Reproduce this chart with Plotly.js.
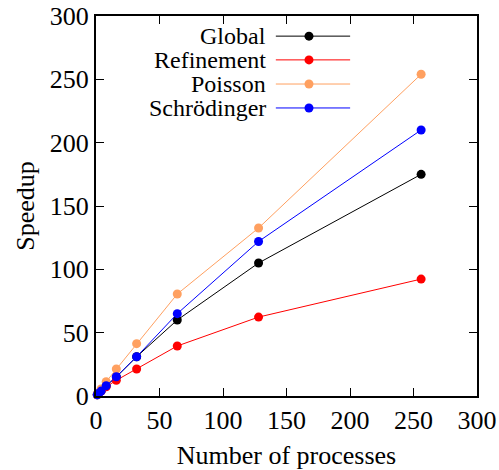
<!DOCTYPE html>
<html><head><meta charset="utf-8">
<script src="https://cdn.plot.ly/plotly-3.0.1.min.js"></script>
<style>body{margin:0;padding:0;background:#fff}#chart{width:499px;height:470px}</style>
</head><body><div id="chart"></div>
<script>
const processes = [1, 2, 4, 8, 16, 32, 64, 128, 256];
const seriesNames = ["Global", "Refinement", "Poisson", "Schrödinger"];
const globalSpeedup = [1, 2, 4, 8, 15, 31, 60, 105, 175];
const refinementSpeedup = [1, 2, 3.8, 7.3, 12.4, 21.3, 39.5, 62.3, 92.3];
const poissonSpeedup = [1, 2.2, 5.5, 11.3, 21.3, 41.3, 80.5, 132.6, 254];
const schrodingerSpeedup = [1, 2, 3.9, 8.1, 15.2, 31, 65, 122, 210];
const colors = ["#000000", "#ff0000", "#ffa060", "#0000ff"];
const allSeries = [globalSpeedup, refinementSpeedup, poissonSpeedup, schrodingerSpeedup];

const font = {family: "Liberation Serif, Times New Roman, serif", size: 26, color: "#000"};
const legendFont = {family: "Liberation Serif, Times New Roman, serif", size: 24, color: "#000"};

const traces = allSeries.map((ys, i) => ({
  x: processes, y: ys, name: seriesNames[i], type: "scatter", mode: "lines+markers",
  line: {color: colors[i], width: 1}, marker: {color: colors[i], size: 9},
  showlegend: false, cliponaxis: false
}));

const legendY = [0.947, 0.8845, 0.821, 0.758];
const annotations = [], shapes = [];
seriesNames.forEach((n, i) => {
  annotations.push({xref: "paper", yref: "paper", x: 0.451, y: legendY[i], text: n, showarrow: false,
    xanchor: "right", yanchor: "middle", font: legendFont});
  shapes.push({type: "line", xref: "paper", yref: "paper", x0: 0.472, x1: 0.667, y0: legendY[i], y1: legendY[i],
    line: {color: colors[i], width: 1}});
  shapes.push({type: "circle", xref: "paper", yref: "paper", xsizemode: "pixel", ysizemode: "pixel",
    xanchor: 0.559, yanchor: legendY[i], x0: -4.5, x1: 4.5, y0: -4.5, y1: 4.5,
    fillcolor: colors[i], line: {color: colors[i], width: 0}});
});

const axisCommon = {showgrid: false, zeroline: false, showline: true, mirror: "ticks", linecolor: "#000", linewidth: 2,
  ticks: "inside", ticklen: 8, tickwidth: 1, tickcolor: "#000", tickfont: font};

const layout = {
  width: 499, height: 470, margin: {l: 96, r: 22, t: 16, b: 74},
  paper_bgcolor: "#fff", plot_bgcolor: "#fff", font: font,
  xaxis: Object.assign({}, axisCommon, {range: [0, 300], tickvals: [0, 50, 100, 150, 200, 250, 300],
    title: {text: "Number of processes", font: font, standoff: 12}}),
  yaxis: Object.assign({}, axisCommon, {range: [0, 300], tickvals: [0, 50, 100, 150, 200, 250, 300],
    title: {text: "Speedup", font: font, standoff: 8}}),
  annotations: annotations, shapes: shapes
};
Plotly.newPlot("chart", traces, layout, {staticPlot: true, displayModeBar: false});
</script></body></html>
